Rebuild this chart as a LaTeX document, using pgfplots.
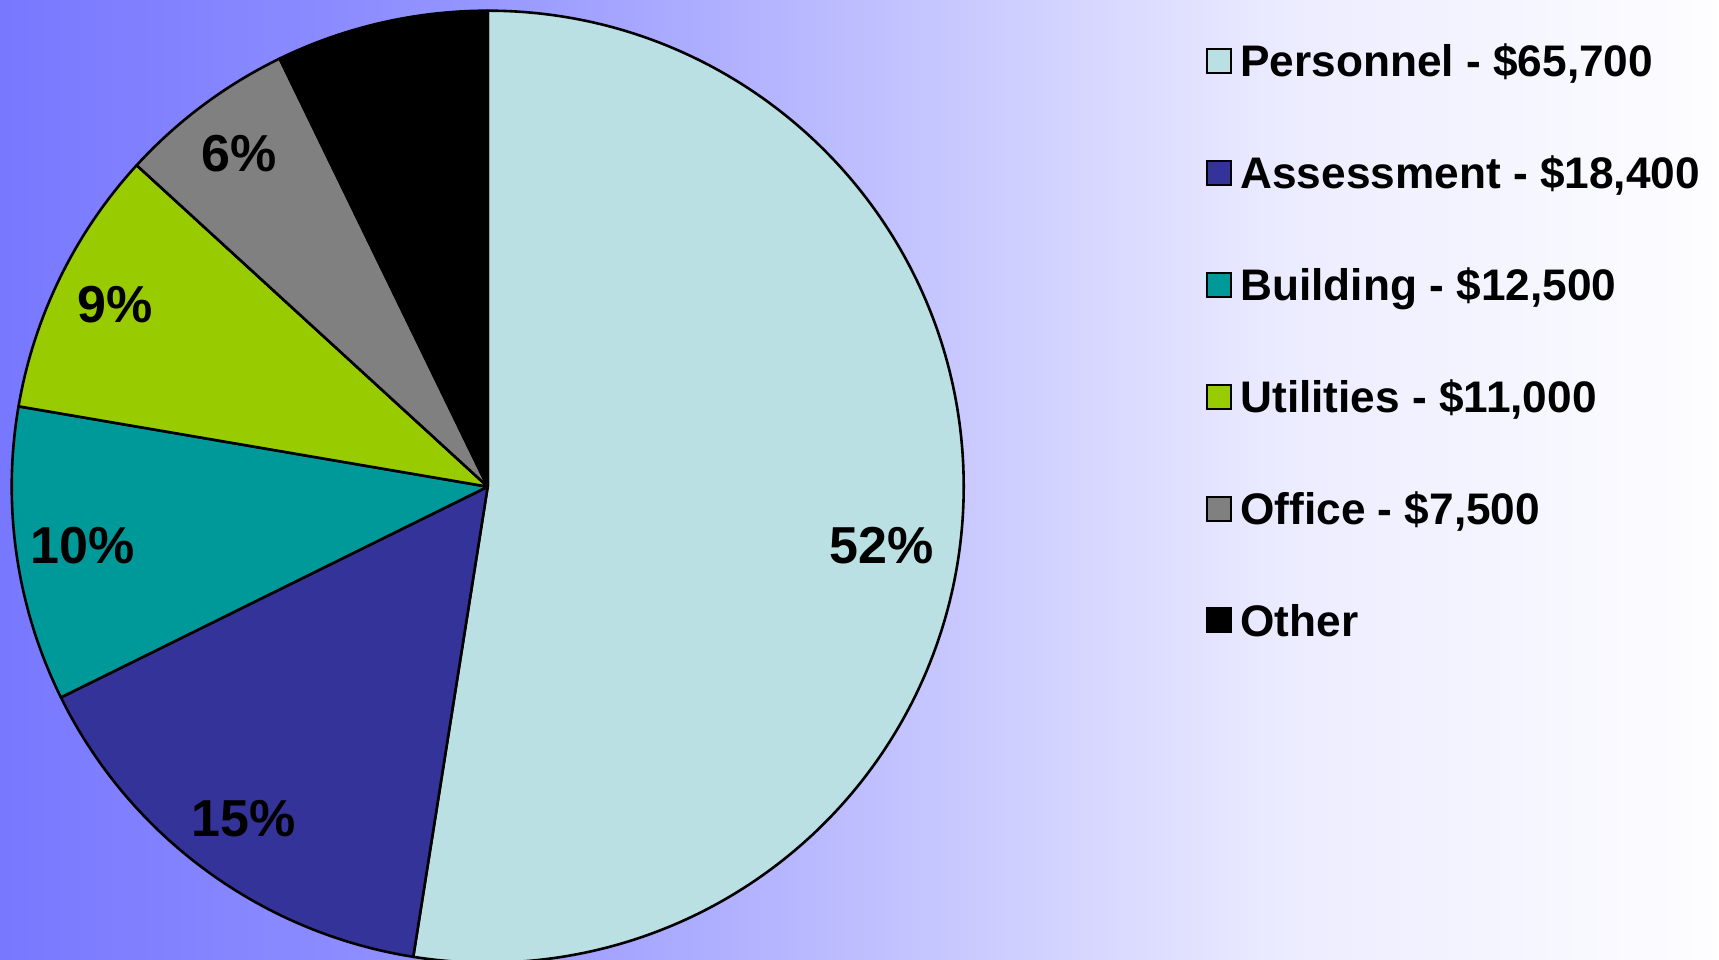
\documentclass[border=0pt]{standalone}
\usepackage{pgfplots}
\usepackage{pgfplotstable}
\pgfplotsset{compat=1.18}
\usepackage{fontspec}
\setmainfont{Liberation Sans}
\definecolor{cPers}{HTML}{BBE0E3}
\definecolor{cAss}{HTML}{333399}
\definecolor{cBld}{HTML}{009999}
\definecolor{cUtil}{HTML}{99CC00}
\definecolor{cOff}{HTML}{808080}
\definecolor{cOth}{HTML}{000000}
\pgfdeclarehorizontalshading{bgshade}{100bp}{rgb(0bp)=(0.47,0.47,1); rgb(25bp)=(0.47,0.47,1); rgb(37.5bp)=(0.57,0.57,1); rgb(50bp)=(0.745,0.745,1); rgb(62.5bp)=(0.925,0.925,1); rgb(75bp)=(0.995,0.995,1); rgb(100bp)=(0.995,0.995,1)}

\pgfplotstableread[col sep=semicolon]{
name;share;color;pct;lr;da
Personnel - \$65,700;52.5;cPers;52;398;-4
Assessment - \$18,400;15.2;cAss;15;412;0
Building - \$12,500;10.0;cBld;10;409;0
Utilities - \$11,000;9.1;cUtil;9;415;0
Office - \$7,500;6.0;cOff;6;416;0
Other;7.2;cOth;0;0;0
}\piedata

\begin{document}
\begin{tikzpicture}
\begin{axis}[
  width=859.5pt, height=479.5pt, scale only axis,
  xmin=0, xmax=1719, ymin=0, ymax=959,
  hide axis, clip=false,
]
\pgfplotsextra{%
  \shade[shading=bgshade] (axis cs:0,0) rectangle (axis cs:1719,959);
  \pgfplotstablegetrowsof{\piedata}%
  \pgfmathtruncatemacro{\lastrow}{\pgfplotsretval-1}%
  \xdef\cumangle{90}%
  \foreach \i in {0,...,\lastrow}{%
    \pgfplotstablegetelem{\i}{share}\of{\piedata}\let\sh\pgfplotsretval
    \pgfplotstablegetelem{\i}{color}\of{\piedata}\let\col\pgfplotsretval
    \pgfmathsetmacro{\ea}{\cumangle-3.6*\sh}%
    \filldraw[overlay, fill=\col, draw=black, line width=1.3pt, line join=round]
      (axis cs:487.7,472.3) -- ++(\cumangle:238pt) arc[start angle=\cumangle, end angle=\ea, radius=238pt] -- cycle;
    \pgfplotstablegetelem{\i}{pct}\of{\piedata}\let\pc\pgfplotsretval
    \pgfplotstablegetelem{\i}{lr}\of{\piedata}\let\lr\pgfplotsretval
    \pgfplotstablegetelem{\i}{da}\of{\piedata}\let\da\pgfplotsretval
    \pgfmathsetmacro{\la}{(\cumangle+\ea)/2+\da}%
    \pgfmathsetlengthmacro{\lrp}{\lr*0.5pt}%
    \ifnum\pc>0
      \path[overlay] (axis cs:487.7,472.3) ++(\la:\lrp) node[font=\bfseries\fontsize{26}{31}\selectfont, inner sep=0pt] {\pc\%};
    \fi
    \xdef\cumangle{\ea}%
  }%
  \foreach \i in {0,...,\lastrow}{%
    \pgfplotstablegetelem{\i}{name}\of{\piedata}\let\nm\pgfplotsretval
    \pgfplotstablegetelem{\i}{color}\of{\piedata}\let\col\pgfplotsretval
    \pgfmathsetmacro{\yc}{959-(61+111.9*\i)}%
    \pgfmathsetmacro{\ylo}{\yc-12}%
    \pgfmathsetmacro{\yhi}{\yc+12}%
    \pgfmathsetmacro{\yb}{\yc-15.7}%
    \filldraw[overlay, fill=\col, draw=black, line width=1pt] (axis cs:1207,\ylo) rectangle (axis cs:1230.5,\yhi);
    \node[overlay, anchor=base west, inner sep=0pt, font=\bfseries\fontsize{22.1}{26.5}\selectfont] at (axis cs:1240,\yb) {\nm};
  }%
}
\end{axis}
\end{tikzpicture}
\end{document}
